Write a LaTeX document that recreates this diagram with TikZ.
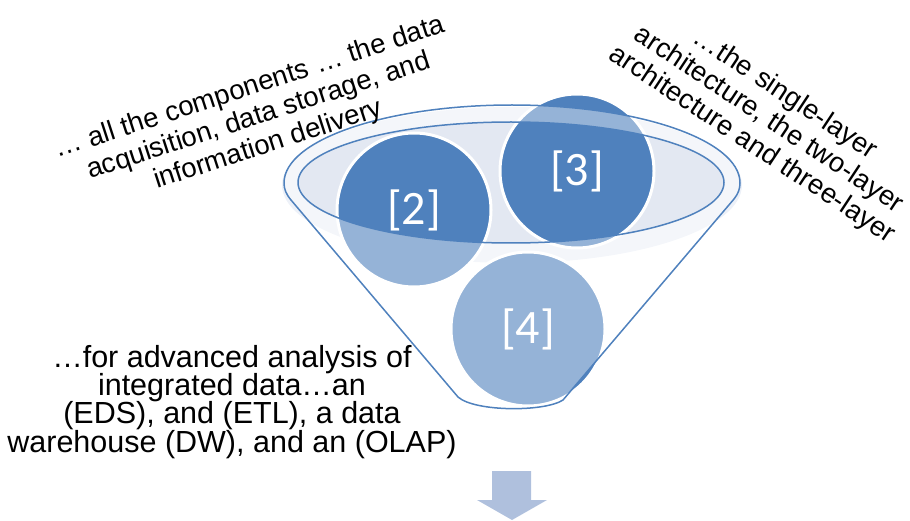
\documentclass[tikz,border=0pt]{standalone}
\usepackage{fontspec}
\setmainfont{Liberation Sans}
\newfontfamily\numfont{Carlito}
\definecolor{dkblue}{HTML}{4F81BD}
\definecolor{halo}{HTML}{EDF1F8}
\definecolor{mouth}{HTML}{E3E8F2}
\definecolor{arrowc}{HTML}{AFC0DD}
\newcommand\tightlines{\lineskiplimit=-100pt\relax}
\tikzset{
  ball/.style={circle, minimum size=154pt, inner sep=0pt, fill=dkblue, draw=white, line width=3pt,
    text=white, font={\numfont\fontsize{48}{50}\selectfont}},
  rimline/.style={draw=dkblue, line width=1.5pt},
  caption/.style={inner sep=0pt, align=center, text=black},
}
\begin{document}
\begin{tikzpicture}[x=1pt,y=1pt]
\useasboundingbox (0,0) rectangle (910,-521);
% halo and mouth of the funnel
\fill[halo] (512,-185) ellipse[x radius=230, y radius=78];
\fill[mouth] (511,-182.5) ellipse[x radius=213, y radius=60.5];
% balls
\node[ball] (b2) at (414,-210) {[2]};
\node[ball] (b3) at (577,-171) {[3]};
\node[ball] (b4) at (528,-329) {[4]};
% translucent funnel body and rim
\fill[white, fill opacity=0.4, even odd rule]
  (458,-397) -- (291,-200) .. controls (286,-194) and (284,-189) .. (284,-183)
  arc[start angle=180, end angle=0, x radius=228, y radius=78]
  .. controls (740,-189) and (738,-194) .. (734,-199) -- (563,-400)
  .. controls (545,-412) and (475,-412) .. (458,-397) -- cycle
  (511,-182.5) ellipse[x radius=213, y radius=60.5];
% outlines
\draw[rimline, line join=round]
  (458,-397) -- (291,-200) .. controls (286,-194) and (284,-189) .. (284,-183)
  arc[start angle=180, end angle=0, x radius=228, y radius=78]
  .. controls (740,-189) and (738,-194) .. (734,-199) -- (563,-400)
  .. controls (545,-412) and (475,-412) .. (458,-397) -- cycle;
\draw[rimline] (511,-182.5) ellipse[x radius=213, y radius=60.5];
% arrow
\fill[arrowc] (492,-471) -- (531,-471) -- (531,-500) -- (547,-500) -- (512,-520)
  -- (477,-500) -- (492,-500) -- cycle;
% captions (anchored at the baseline of their last line)
\node[caption, anchor=base, rotate=18,
  font={\fontsize{27.5}{30}\selectfont\tightlines}] (t1) at (270.5,-152)
  {… all the components … the data\\acquisition, data storage, and\\information delivery};
\node[caption, anchor=base, rotate=-33.5,
  font={\fontsize{27.5}{30}\selectfont\tightlines}] (t2) at (748,-151)
  {…the single-layer\\architecture, the two-layer\\architecture and three-layer};
\node[caption, anchor=base,
  font={\fontsize{30.5}{28.3}\selectfont\tightlines}] (t3) at (232,-452)
  {…for advanced analysis of\\integrated data…an\\(EDS), and (ETL), a data\\warehouse (DW), and an (OLAP)};
\end{tikzpicture}
\end{document}
